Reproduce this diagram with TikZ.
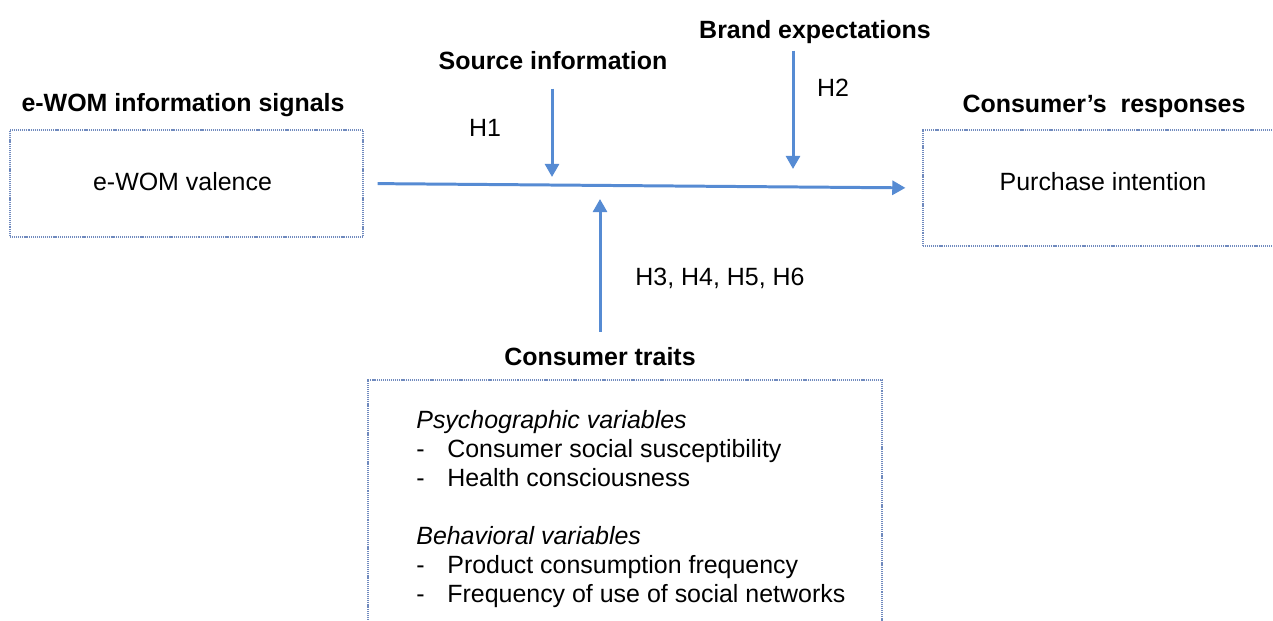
\documentclass[tikz,border=0pt]{standalone}
\usepackage{fontspec}
\setmainfont{Liberation Sans}
\usetikzlibrary{arrows.meta}

\definecolor{linkblue}{RGB}{86,139,211}
\definecolor{frameblue}{RGB}{112,138,190}

\tikzset{
  every node/.style={font=\fontsize{14.2}{17}\selectfont, inner sep=0pt},
  head/.style={font=\fontsize{14.2}{17}\selectfont\bfseries, anchor=base},
  plain/.style={anchor=base},
  item/.style={anchor=base west},
  frame/.style={draw=frameblue, line width=0.7pt, dash pattern=on 0.6pt off 0.5pt},
  link/.style={draw=linkblue, line width=1.7pt, -{Triangle[length=7.5pt,width=8pt]}},
}

\begin{document}
\begin{tikzpicture}[x=0.02cm, y=-0.02cm]
    \clip (0,0) rectangle (1273,621);

    % Boxes
    \node[frame, minimum width=7.06cm, minimum height=2.14cm] (valence) at (186.5,183.5) {};
    \node[frame, minimum width=7.2cm, minimum height=2.32cm] (intent) at (1103,188) {};
    \node[frame, minimum width=10.28cm, minimum height=6.4cm] (traitbox) at (625,540) {};

    % Box contents
    \node[plain] (valencetxt) at (182.5,191) {e-WOM valence};
    \node[plain] (intenttxt) at (1103,191) {Purchase intention};

    % Headings
    \node[head] (signals) at (183,112) {e-WOM information signals};
    \node[head] (responses) at (1104,113) {Consumer's~ responses};
    \node[head] (srcinfo) at (553,70) {Source information};
    \node[head] (brandexp) at (815,39) {Brand expectations};
    \node[head] (traits) at (600,365) {Consumer traits};

    % Hypotheses
    \node[plain] (hone) at (485,137) {H1};
    \node[plain] (htwo) at (833,97) {H2};
    \node[plain] (hrest) at (720,286) {H3, H4, H5, H6};

    % Trait list
    \foreach \lbl/\yy in {Psychographic variables/428, Behavioral variables/544}
        \node[item, font=\fontsize{14.2}{17}\selectfont\itshape] (group\yy) at (416,\yy) {\lbl};
    \foreach \lbl/\yy in {Consumer social susceptibility/457, Health consciousness/486,
                          Product consumption frequency/573, Frequency of use of social networks/602} {
        \node[item] (dash\yy) at (416,\yy) {-};
        \node[item] (entry\yy) at (447,\yy) {\lbl};
    }

    % Arrow tips on the main path
    \coordinate (srctip) at (552,177);
    \coordinate (brandtip) at (793,169);
    \coordinate (traittip) at (600,199);

    % Connectors
    \draw[link, shorten <=0.28cm, shorten >=0.34cm] (valence.east) -- (intent.west);
    \draw[link, shorten <=0.36cm] (srcinfo.south -| srctip) -- (srctip);
    \draw[link, shorten <=0.12cm] (brandexp.south -| brandtip) -- (brandtip);
    \draw[link, shorten <=0.3cm] (traits.north) -- (traittip);
\end{tikzpicture}
\end{document}
